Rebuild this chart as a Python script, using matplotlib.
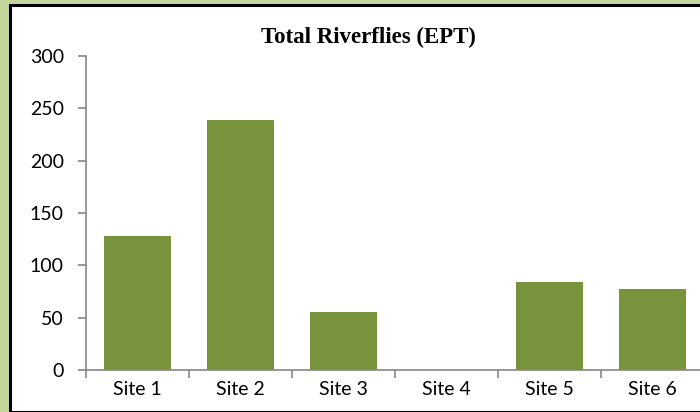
import matplotlib
matplotlib.use("Agg")
import matplotlib.pyplot as plt
from matplotlib.patches import Rectangle
from matplotlib.lines import Line2D
import numpy as np

sites = ["Site 1", "Site 2", "Site 3", "Site 4", "Site 5", "Site 6"]
counts = [128, 239, 55, 0, 84, 77]
yticks = [0, 50, 100, 150, 200, 250, 300]

bar_color = "#77933C"
axis_color = "#868686"
W, H = 700, 412

fig = plt.figure(figsize=(W / 100, H / 100), dpi=100)
fig.patch.set_facecolor("#C3D69B")

# white chart area with black frame (cut off on the right)
fig.patches.append(Rectangle((9.5 / W, 0), 1.0, 1 - 4.5 / H, transform=fig.transFigure,
                             facecolor="white", edgecolor="black", linewidth=2.2, zorder=-1))
fig.lines.append(Line2D([11 / W, 1], [2.5 / H, 2.5 / H], transform=fig.transFigure,
                        color="#555555", linewidth=1.5, zorder=-1))

x0, x1 = 86, 704
y0, y1 = 370, 56
ax = fig.add_axes([x0 / W, 1 - y0 / H, (x1 - x0) / W, (y0 - y1) / H])
ax.set_zorder(2)
ax.set_facecolor("none")

x = np.arange(len(sites))
ax.bar(x, counts, width=0.66, color=bar_color, zorder=2)

ax.set_xlim(-0.5, len(sites) - 0.5)
ax.set_ylim(0, 300)
ax.set_yticks(yticks)
ax.set_yticklabels([str(v) for v in yticks], fontsize=14, family="Lato")
ax.set_xticks(x)
ax.set_xticklabels(sites, fontsize=14, family="Lato")
ax.set_xticks(np.arange(-0.5, len(sites)), minor=True)

for s in ["top", "right"]:
    ax.spines[s].set_visible(False)
for s in ["left", "bottom"]:
    ax.spines[s].set_color(axis_color)
    ax.spines[s].set_linewidth(1.2)

ax.tick_params(axis="y", length=6, width=1.2, color=axis_color, pad=10)
ax.tick_params(axis="x", which="major", length=0, pad=8)
ax.tick_params(axis="x", which="minor", length=6, width=1.2, color=axis_color)

fig.text(368 / W, 1 - 37 / H, "Total Riverflies (EPT)", ha="center", va="center",
         fontsize=16.5, fontweight="bold", family="Liberation Serif", zorder=3)

fig.savefig("out.png", dpi=100)
